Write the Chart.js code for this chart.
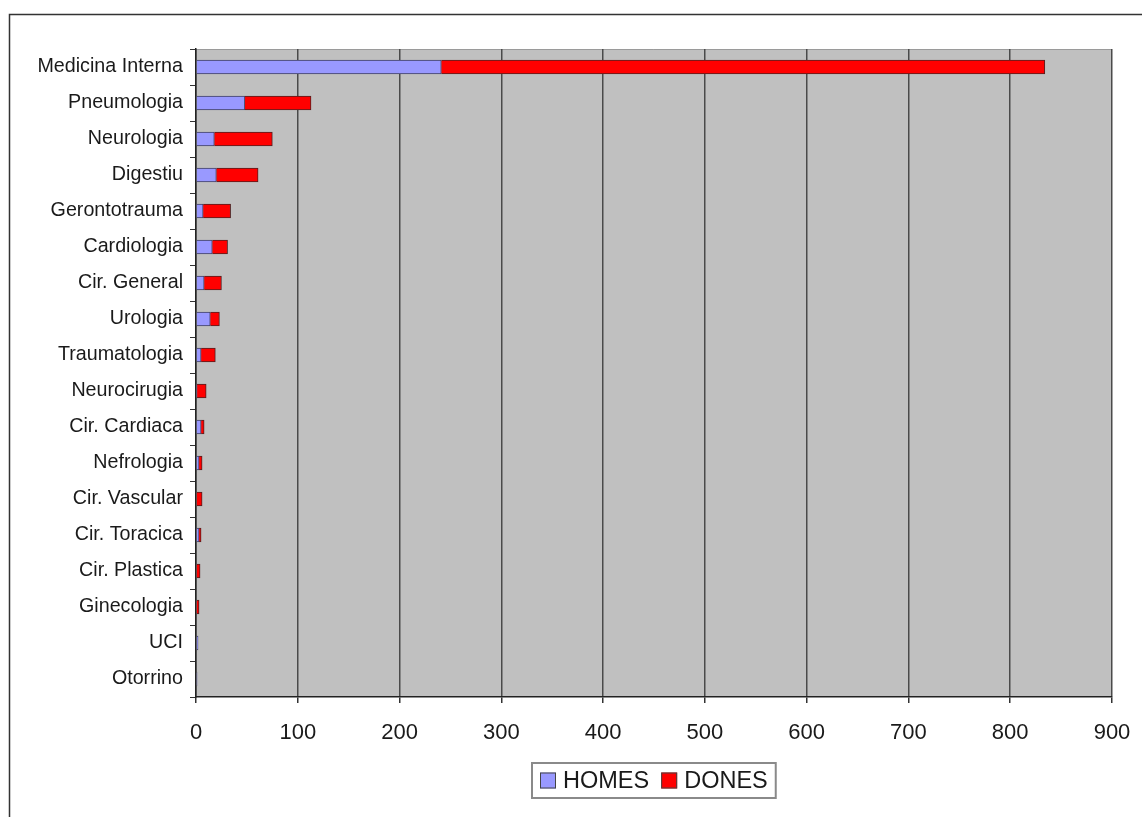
<!DOCTYPE html>
<html>
<head>
<meta charset="utf-8">
<script src="https://cdn.jsdelivr.net/npm/chart.js@4/dist/chart.umd.min.js"></script>
<style>
  body { margin: 0; background: #ffffff; }
  #wrap { width: 1142px; height: 817px; }
</style>
</head>
<body>
<div id="wrap"><canvas id="chart" width="1142" height="817"></canvas></div>
<script>
// Daten
const categories = ['Medicina Interna', 'Pneumologia', 'Neurologia', 'Digestiu', 'Gerontotrauma',
  'Cardiologia', 'Cir. General', 'Urologia', 'Traumatologia', 'Neurocirugia', 'Cir. Cardiaca',
  'Nefrologia', 'Cir. Vascular', 'Cir. Toracica', 'Cir. Plastica', 'Ginecologia', 'UCI', 'Otorrino'];
const homes = [241, 48, 18, 20, 7, 16, 8, 14, 5, 1, 5, 3, 0, 3, 0, 0, 2, 1];
const dones = [593, 65, 57, 41, 27, 15, 17, 9, 14, 9, 3, 3, 6, 2, 4, 3, 0, 0];
const xTicks = [0, 100, 200, 300, 400, 500, 600, 700, 800, 900];

const FONT = '"Liberation Sans", Arial, sans-serif';
const TEXT = '#1a1a1a';

// Hintergrund, Rahmen und Legende
const framePlugin = {
  id: 'frame',
  beforeDraw(chart) {
    const { ctx, chartArea: a } = chart;
    ctx.save();
    ctx.fillStyle = '#c0c0c0';
    ctx.fillRect(a.left, a.top, a.right - a.left, a.bottom - a.top);
    ctx.strokeStyle = '#9a9a9a';
    ctx.lineWidth = 1;
    ctx.beginPath();
    ctx.moveTo(a.left, a.top + 0.5);
    ctx.lineTo(a.right - 0.5, a.top + 0.5);
    ctx.lineTo(a.right - 0.5, a.bottom);
    ctx.stroke();
    ctx.restore();
  },
  afterDraw(chart) {
    const { ctx, chartArea: a } = chart;
    ctx.save();
    // aeusserer Rahmen
    ctx.strokeStyle = '#333';
    ctx.lineWidth = 1.5;
    ctx.strokeRect(9.5, 14.5, 1200, 900);

    // Legende
    ctx.font = '23.5px ' + FONT;
    const items = chart.data.datasets.map(d => ({ label: d.label, color: d.backgroundColor }));
    const box = 16, gap = 7, itemGap = 12, padX = 8;
    let total = padX * 2;
    items.forEach((it, i) => {
      it.w = ctx.measureText(it.label).width;
      total += box + gap + it.w + (i < items.length - 1 ? itemGap : 0);
    });
    const cx = (a.left + a.right) / 2;
    const left = Math.round(cx - total / 2);
    const top = 763, h = 35;
    ctx.strokeStyle = '#8a8a8a';
    ctx.lineWidth = 2;
    ctx.fillStyle = '#fff';
    ctx.fillRect(left, top, total, h);
    ctx.strokeRect(left, top, total, h);
    let x = left + padX;
    const cy = top + h / 2;
    items.forEach(it => {
      ctx.fillStyle = it.color;
      ctx.fillRect(x, cy - box / 2, box, box);
      ctx.strokeStyle = '#444';
      ctx.lineWidth = 1;
      ctx.strokeRect(x + 0.5, cy - box / 2 + 0.5, box - 1, box - 1);
      x += box + gap;
      ctx.fillStyle = TEXT;
      ctx.textBaseline = 'middle';
      ctx.fillText(it.label, x, cy + 1);
      x += it.w + itemGap;
    });
    ctx.restore();
  }
};

new Chart(document.getElementById('chart'), {
  type: 'bar',
  data: {
    labels: categories,
    datasets: [
      { label: 'HOMES', data: homes, backgroundColor: '#9999ff', borderColor: '#404060', borderWidth: 1, barThickness: 14 },
      { label: 'DONES', data: dones, backgroundColor: '#ff0000', borderColor: '#502020', borderWidth: 1, barThickness: 14 }
    ]
  },
  options: {
    indexAxis: 'y',
    responsive: false,
    animation: false,
    layout: { padding: { top: 49, right: 30, bottom: 65, left: 0 } },
    plugins: {
      legend: { display: false },
      tooltip: { enabled: false }
    },
    scales: {
      x: {
        stacked: true,
        min: 0,
        max: 900,
        afterBuildTicks: scale => { scale.ticks = xTicks.map(v => ({ value: v })); },
        afterFit: scale => {
          scale.height = 55;
          scale.paddingLeft = 0;
          scale.paddingRight = 0;
        },
        ticks: { color: TEXT, font: { family: FONT, size: 22 }, padding: 17 },
        grid: { color: '#4a4a4a', lineWidth: 1.5, tickLength: 6, tickColor: '#333' },
        border: { color: '#222', width: 1.5 }
      },
      y: {
        stacked: true,
        afterFit: scale => { scale.width = 196; },
        ticks: { color: TEXT, font: { family: FONT, size: 19.7 }, padding: 7, autoSkip: false },
        grid: { drawOnChartArea: false, offset: true, tickLength: 6, color: '#333' },
        border: { color: '#222', width: 1.5 }
      }
    }
  },
  plugins: [framePlugin]
});
</script>
</body>
</html>
